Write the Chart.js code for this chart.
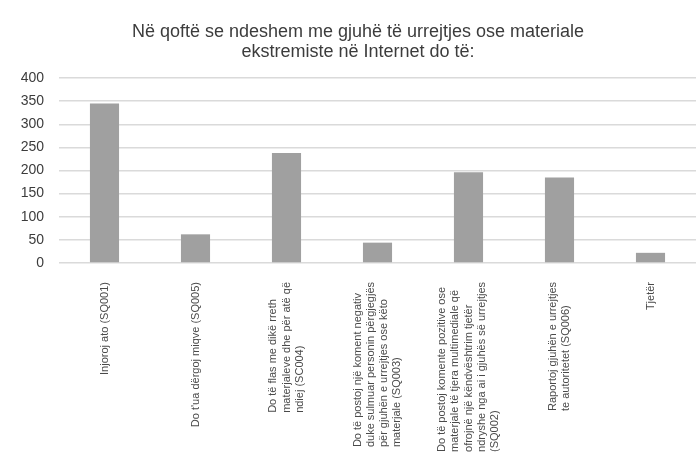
<!DOCTYPE html>
<html>
<head>
<meta charset="utf-8">
<script src="https://cdn.jsdelivr.net/npm/chart.js@4"></script>
<style>
  html, body { margin: 0; padding: 0; background: #fff; }
  #wrap { width: 696px; height: 456px; }
</style>
</head>
<body>
<div id="wrap"><canvas id="chart"></canvas></div>
<script>
// --- données ---
const titleLines = [
    'Në qoftë se ndeshem me gjuhë të urrejtjes ose materiale',
    'ekstremiste në Internet do të:'
];
const categories = [
    ['Injoroj ato (SQ001)'],
    ['Do t\'ua dërgoj miqve (SQ005)'],
    ['Do të flas me dikë rreth', 'materjaleve dhe për atë që', 'ndiej (SC004)'],
    ['Do të postoj një koment negativ', 'duke sulmuar personin përgjegjës', 'për gjuhën e urrejtjes ose këto', 'materjale (SQ003)'],
    ['Do të postoj komente pozitive ose', 'materjale të tjera multimediale që', 'ofrojnë një këndvështrim tjetër', 'ndryshe nga ai i gjuhës së urrejtjes', '(SQ002)'],
    ['Raportoj gjuhën e urrejtjes', 'te autoritetet (SQ006)'],
    ['Tjetër']
];
const counts = [345, 62, 238, 44, 196, 185, 22];
const yTicks = [0, 50, 100, 150, 200, 250, 300, 350, 400];

const textColor = '#3c3c3c';
const FONT = '"Liberation Sans", Arial, sans-serif';

// étiquettes verticales : lignes alignées à gauche, bloc collé à l'axe
const rotatedLabels = {
    id: 'rotatedLabels',
    afterDraw(chart) {
        const xs = chart.scales.x;
        const ctx = chart.ctx;
        const lh = 13.2;
        ctx.save();
        ctx.font = '11px ' + FONT;
        ctx.fillStyle = '#4a4a4a';
        ctx.textAlign = 'left';
        ctx.textBaseline = 'middle';
        categories.forEach((lines, i) => {
            const x = xs.getPixelForValue(i);
            const maxW = Math.max(...lines.map(l => ctx.measureText(l).width));
            ctx.save();
            ctx.translate(x, xs.top + 19);
            ctx.rotate(-Math.PI / 2);
            lines.forEach((l, j) => {
                ctx.fillText(l, -maxW, (j - (lines.length - 1) / 2) * lh);
            });
            ctx.restore();
        });
        ctx.restore();
    }
};

new Chart(document.getElementById('chart'), {
    type: 'bar',
    data: {
        labels: categories,
        datasets: [{
            data: counts,
            backgroundColor: '#a0a0a0',
            barPercentage: 0.32,
            categoryPercentage: 1
        }]
    },
    options: {
        responsive: true,
        maintainAspectRatio: false,
        animation: false,
        layout: { padding: { top: 10, left: 20, right: 0, bottom: 0 } },
        plugins: {
            legend: { display: false },
            tooltip: { enabled: false },
            title: {
                display: true,
                text: titleLines,
                color: textColor,
                font: { family: FONT, size: 18, weight: 'normal', lineHeight: 1.1 },
                padding: { top: 12, bottom: 16.4 }
            }
        },
        scales: {
            x: {
                grid: { display: false },
                border: { display: false },
                ticks: { display: false },
                afterFit: s => { s.height = 193; }
            },
            y: {
                min: 0,
                max: 400,
                afterBuildTicks: s => { s.ticks = yTicks.map(v => ({ value: v })); },
                afterFit: s => { s.width = 39; },
                grid: { color: '#dadada', lineWidth: 1.5, drawTicks: false },
                border: { display: false },
                ticks: {
                    color: textColor,
                    padding: 15,
                    font: { family: FONT, size: 14 }
                }
            }
        }
    },
    plugins: [rotatedLabels]
});
</script>
</body>
</html>
